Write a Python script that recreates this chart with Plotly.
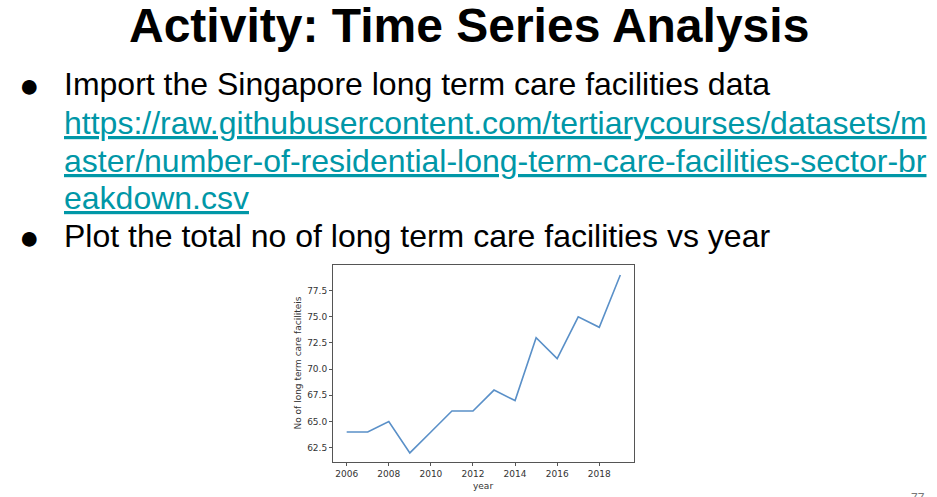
import plotly.graph_objects as go

years = [2006, 2007, 2008, 2009, 2010, 2011, 2012, 2013, 2014, 2015, 2016, 2017, 2018, 2019]
facilities = [64, 64, 65, 62, 64, 66, 66, 68, 67, 73, 71, 75, 74, 79]
x_ticks = [2006, 2008, 2010, 2012, 2014, 2016, 2018]
y_ticks = [62.5, 65.0, 67.5, 70.0, 72.5, 75.0, 77.5]

title_text = "<b>Activity: Time Series Analysis</b>"
bullet1 = "Import the Singapore long term care facilities data"
link_lines = [
    "https://raw.githubusercontent.com/tertiarycourses/datasets/m",
    "aster/number-of-residential-long-term-care-facilities-sector-br",
    "eakdown.csv",
]
bullet2 = "Plot the total no of long term care facilities vs year"

W, H = 937, 497

def px(x):
    return x / W

def py(y):
    return 1 - y / H

fig = go.Figure()
fig.add_trace(go.Scatter(
    x=years, y=facilities, mode="lines",
    line=dict(color="#5a90c8", width=1.6),
    hoverinfo="skip", showlegend=False,
))

ann = []
ann.append(dict(text=title_text, x=px(469), y=py(25.5), xanchor="center", yanchor="middle",
                font=dict(family="Liberation Sans, Arial", size=48, color="#000000")))
# bullets
for yc in (85.5, 237.5):
    ann.append(dict(text="●", x=px(29), y=py(yc), xanchor="center", yanchor="middle",
                    font=dict(family="Liberation Sans, Arial", size=34, color="#000000")))
ann.append(dict(text=bullet1, x=px(62), y=py(83.9), xanchor="left", yanchor="middle",
                font=dict(family="Liberation Sans, Arial", size=32, color="#000000")))
for t, yc in zip(link_lines, (122.9, 160.6, 197.9)):
    ann.append(dict(text=t, x=px(62), y=py(yc), xanchor="left", yanchor="middle",
                    font=dict(family="Liberation Sans, Arial", size=32, color="#0097a7",
                              lineposition="under")))
ann.append(dict(text=bullet2, x=px(62), y=py(235.6), xanchor="left", yanchor="middle",
                font=dict(family="Liberation Sans, Arial", size=32, color="#000000")))
ann.append(dict(text="77", x=px(918), y=py(489), xanchor="center", yanchor="top",
                font=dict(family="Liberation Sans, Arial", size=12, color="#777777")))
# axis titles
ann.append(dict(text="No of long term care faciliteis", x=px(297), y=py(363.5), xanchor="center",
                yanchor="middle", textangle=-90,
                font=dict(family="DejaVu Sans", size=9, color="#333333")))
ann.append(dict(text="year", x=px(483), y=py(486), xanchor="center", yanchor="middle",
                font=dict(family="DejaVu Sans", size=9, color="#333333")))
for a in ann:
    a.update(xref="paper", yref="paper", showarrow=False)

fig.update_layout(
    width=W, height=H,
    margin=dict(l=0, r=0, t=0, b=0),
    paper_bgcolor="#ffffff", plot_bgcolor="#ffffff",
    annotations=ann,
    xaxis=dict(domain=[px(333), px(634)], range=[2005.35, 2019.65],
               tickvals=x_ticks, ticktext=[str(v) for v in x_ticks],
               showgrid=False, zeroline=False, showline=True, linecolor="#555555", linewidth=1,
               mirror=True, ticks="outside", ticklen=3, tickcolor="#555555",
               tickfont=dict(family="DejaVu Sans", size=9, color="#333333")),
    yaxis=dict(domain=[py(462), py(265)], range=[61.13, 79.95],
               tickvals=y_ticks, ticktext=[f"{v:.1f}" for v in y_ticks],
               showgrid=False, zeroline=False, showline=True, linecolor="#555555", linewidth=1,
               mirror=True, ticks="outside", ticklen=3, tickcolor="#555555",
               tickfont=dict(family="DejaVu Sans", size=9, color="#333333")),
)

fig.write_html("out.html", config={"displayModeBar": False},
               post_script="document.body.style.margin='0';")
